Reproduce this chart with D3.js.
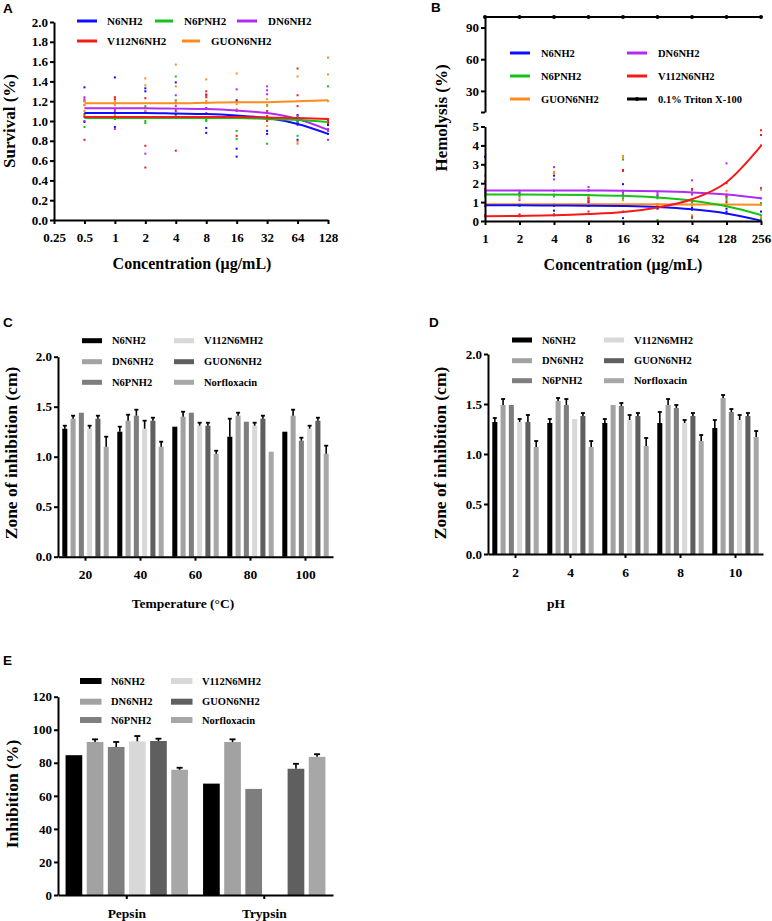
<!DOCTYPE html>
<html><head><meta charset="utf-8">
<script src="https://cdn.jsdelivr.net/npm/d3@7"></script>
<style>body{margin:0;background:#fff}</style>
</head><body><svg id="c" width="772" height="921" style="background:#fff"></svg>
<script>
// ================= Panel A: Survival =================
const concA = [0.5,1,2,4,8,16,32,64,128];
const ticksA = [0.25,0.5,1,2,4,8,16,32,64,128];
const tickLabelsA = ["0.25","0.5","1","2","4","8","16","32","64","128"];
const yTicksA = [0,0.2,0.4,0.6,0.8,1.0,1.2,1.4,1.6,1.8,2.0];
const namesA = ["N6NH2","N6PNH2","DN6NH2","V112N6NH2","GUON6NH2"];
const fitA_N6NH2 = [1.08,1.08,1.08,1.075,1.07,1.055,1.03,0.97,0.87];
const fitA_N6PNH2 = [1.03,1.03,1.03,1.03,1.03,1.03,1.02,1.01,0.99];
const fitA_DN6NH2 = [1.13,1.13,1.13,1.125,1.12,1.105,1.08,1.02,0.91];
const fitA_V112N6NH2 = [1.04,1.04,1.04,1.04,1.04,1.04,1.035,1.03,1.02];
const fitA_GUON6NH2 = [1.18,1.18,1.18,1.18,1.185,1.19,1.19,1.20,1.21];
const dotsA_N6NH2 = [[1.34,1.20,0.99],[1.44,0.94,1.02],[1.33,1.30,1.04],[1.39,1.07,1.18],[1.13,0.93,0.88],[1.21,0.72,0.64],[0.90,0.87,1.03],[1.06,0.81,0.98],[1.00,0.96,0.87]];
const dotsA_N6PNH2 = [[0.94,1.05,1.16],[1.02,1.08,1.04],[1.15,0.98,1.00],[1.45,1.21,1.05],[1.12,1.01,1.00],[1.11,0.90,0.82],[1.16,0.77,1.02],[0.85,0.99,1.00],[1.35,0.91,0.99]];
const dotsA_DN6NH2 = [[1.24,1.22,1.00],[0.92,1.10,1.12],[0.67,1.13,1.10],[1.26,1.12,1.15],[1.27,1.13,1.08],[1.32,1.10,1.05],[1.35,1.31,1.27],[1.05,0.96,1.00],[0.81,0.92,0.90]];
const dotsA_V112N6NH2 = [[0.81,1.04,1.07],[1.24,1.22,1.04],[1.23,0.75,0.53],[0.70,1.04,1.10],[1.30,1.26,1.24],[0.85,1.05,1.20],[1.05,1.00,1.10],[1.53,1.26,1.15],[1.02,1.00,0.98]];
const dotsA_GUON6NH2 = [[1.16,1.10,1.20],[1.06,1.16,1.20],[1.43,1.36,1.10],[1.57,1.35,1.20],[1.42,1.18,1.20],[1.48,1.17,1.12],[1.22,0.95,1.15],[1.45,0.79,0.77],[1.64,1.47,1.20]];

// ================= Panel B: Hemolysis =================
const concB = [1,2,4,8,16,32,64,128,256];
const tickLabelsB = ["1","2","4","8","16","32","64","128","256"];
const namesB = ["N6NH2","DN6NH2","N6PNH2","V112N6NH2","GUON6NH2","0.1% Triton X-100"];
const fitB_N6NH2 = [0.83,0.83,0.82,0.81,0.79,0.74,0.62,0.40,0.02];
const fitB_N6PNH2 = [1.40,1.40,1.39,1.37,1.33,1.24,1.07,0.78,0.32];
const fitB_DN6NH2 = [1.62,1.62,1.62,1.61,1.60,1.57,1.51,1.40,1.20];
const fitB_V112N6NH2 = [0.25,0.27,0.30,0.37,0.48,0.72,1.15,2.05,3.97];
const fitB_GUON6NH2 = [0.88,0.88,0.88,0.88,0.88,0.88,0.87,0.87,0.86];
const tritonB = [100,100,100,100,100,100,100,100,100];
const dotsB_N6NH2 = [[3.4,0.85,0.8],[1.45,1.4,0.8],[2.4,0.55,0.8],[0.8,1.0,0.85],[1.95,0.15,0.8],[0.65,0.7,0.75],[0.2,0.6,0.7],[0.65,0.5,0.4],[0.5,0.05,0.0]];
const dotsB_N6PNH2 = [[2.9,1.4,1.3],[0.8,1.4,1.3],[1.4,0.35,1.3],[1.65,1.3,1.2],[3.25,1.3,1.2],[0.05,1.2,1.3],[0.15,1.1,1.0],[1.2,1.1,0.8],[0.95,0.3,0.1]];
const dotsB_DN6NH2 = [[2.1,1.6,1.5],[1.1,1.6,1.5],[2.85,2.2,1.6],[1.8,1.05,1.6],[1.5,1.6,1.4],[1.4,1.35,1.5],[2.15,1.5,1.4],[3.05,1.4,1.3],[1.75,1.7,1.2]];
const dotsB_V112N6NH2 = [[1.7,0.25,0.3],[0.35,0.25,0.3],[0.8,0.3,0.35],[1.2,1.1,0.5],[2.7,2.65,0.5],[0.9,0.7,0.8],[1.7,1.65,0.2],[1.3,1.0,2.0],[4.8,4.55,4.0]];
const dotsB_GUON6NH2 = [[2.4,0.9,0.85],[1.2,0.9,0.85],[2.6,2.5,0.9],[1.3,0.9,0.85],[3.45,3.35,1.1],[0.9,0.85,0.8],[0.3,0.9,0.8],[1.6,0.9,0.85],[1.65,0.2,0.85]];

// ================= Bar panels: shared series =================
const barNames = ["N6NH2","DN6NH2","N6PNH2","V112N6MH2","GUON6NH2","Norfloxacin"];

// Panel C: temperature
const tempCats = ["20","40","60","80","100"];
const tempN6NH2 = [1.28,1.25,1.30,1.20,1.25];
const tempDN6NH2 = [1.38,1.36,1.40,1.41,1.41];
const tempN6PNH2 = [1.44,1.41,1.44,1.35,1.16];
const tempV112N6MH2 = [1.28,1.28,1.31,1.31,1.28];
const tempGUON6NH2 = [1.38,1.36,1.31,1.38,1.36];
const tempNorfloxacin = [1.10,1.10,1.03,1.05,1.03];
const tempErrN6NH2 = [0.03,0.05,0,0.18,0];
const tempErrDN6NH2 = [0.03,0.06,0.05,0.03,0.06];
const tempErrN6PNH2 = [0,0.06,0,0,0.03];
const tempErrV112N6MH2 = [0.03,0.08,0.03,0.03,0.03];
const tempErrGUON6NH2 = [0.03,0.03,0.03,0.03,0.03];
const tempErrNorfloxacin = [0.10,0.05,0.03,0,0.08];

// Panel D: pH
const phCats = ["2","4","6","8","10"];
const phN6NH2 = [1.32,1.31,1.31,1.31,1.26];
const phDN6NH2 = [1.49,1.53,1.49,1.49,1.56];
const phN6PNH2 = [1.49,1.49,1.48,1.46,1.42];
const phV112N6MH2 = [1.32,1.35,1.34,1.31,1.34];
const phGUON6NH2 = [1.32,1.38,1.38,1.38,1.38];
const phNorfloxacin = [1.07,1.07,1.08,1.13,1.17];
const phErrN6NH2 = [0.04,0.04,0.04,0.11,0.08];
const phErrDN6NH2 = [0.06,0.03,0,0.06,0.03];
const phErrN6PNH2 = [0,0.06,0.03,0.03,0.03];
const phErrV112N6MH2 = [0.03,0,0.05,0.03,0.05];
const phErrGUON6NH2 = [0.07,0.03,0.03,0.03,0.03];
const phErrNorfloxacin = [0.06,0.06,0.08,0.06,0.06];

// Panel E: enzymes
const enzCats = ["Pepsin","Trypsin"];
const enzN6NH2 = [84.6,67.4];
const enzDN6NH2 = [92.6,92.6];
const enzN6PNH2 = [89.6,64.2];
const enzV112N6MH2 = [93.0,null];
const enzGUON6NH2 = [93.2,76.4];
const enzNorfloxacin = [75.8,83.6];
const enzErrN6NH2 = [0,0];
const enzErrDN6NH2 = [1.6,1.6];
const enzErrN6PNH2 = [3.0,0];
const enzErrV112N6MH2 = [3.2,0];
const enzErrGUON6NH2 = [1.4,3.0];
const enzErrNorfloxacin = [1.2,1.6];

// ================= Styling =================
const SERIF = "'Liberation Serif','Times New Roman',serif";
const SANS = "'Liberation Sans',Arial,sans-serif";
const lineColors = {N6NH2:"#0d0dff",N6PNH2:"#17c217",DN6NH2:"#b02cf2",V112N6NH2:"#f51a1a",GUON6NH2:"#ff8a1f"};
const barColors = ["#000000","#a2a2a2","#7e7e7e","#d8d8d8","#5f5f5f","#a7a7a7"];

const svg = d3.select("#c");

function text(x,y,s,size,opts={}){
  const t = svg.append("text").attr("x",x).attr("y",y).text(s)
    .attr("font-family",opts.family||SERIF).attr("font-weight","bold")
    .attr("font-size",size).attr("fill","#000")
    .attr("text-anchor",opts.anchor||"start");
  if(opts.rotate){ t.attr("transform",`rotate(-90,${x},${y})`).attr("text-anchor","middle"); }
  if(opts.baseline) t.attr("dominant-baseline",opts.baseline);
  return t;
}
function styleAxis(g,size){
  g.attr("font-family",SERIF).attr("font-weight","bold").attr("font-size",size);
  g.select(".domain").attr("stroke","#000").attr("stroke-width",2);
  g.selectAll(".tick line").attr("stroke","#000").attr("stroke-width",2);
  g.selectAll(".tick text").attr("fill","#000");
}

// ================= Draw Panel A =================
(function(){
  const x = d3.scaleLog().base(2).domain([0.25,128]).range([54,328]);
  const y = d3.scaleLinear().domain([0,2]).range([220,22]);
  const series = [
    {n:"N6NH2",fit:fitA_N6NH2,dots:dotsA_N6NH2},
    {n:"N6PNH2",fit:fitA_N6PNH2,dots:dotsA_N6PNH2},
    {n:"DN6NH2",fit:fitA_DN6NH2,dots:dotsA_DN6NH2},
    {n:"V112N6NH2",fit:fitA_V112N6NH2,dots:dotsA_V112N6NH2},
    {n:"GUON6NH2",fit:fitA_GUON6NH2,dots:dotsA_GUON6NH2}];
  series.forEach(s=>{
    s.dots.forEach((reps,i)=>reps.forEach(v=>{
      svg.append("rect").attr("x",x(concA[i])-1).attr("y",y(v)-1).attr("width",2).attr("height",2).attr("fill",lineColors[s.n]);
    }));
  });
  const line = d3.line().x((d,i)=>x(concA[i])).y(d=>y(d)).curve(d3.curveMonotoneX);
  ["GUON6NH2","DN6NH2","N6NH2","N6PNH2","V112N6NH2"].forEach(n=>{
    const s = series.find(q=>q.n===n);
    svg.append("path").attr("d",line(s.fit)).attr("fill","none").attr("stroke",lineColors[n]).attr("stroke-width",2);
  });
  const gx = svg.append("g").attr("transform","translate(0,220)")
    .call(d3.axisBottom(x).tickValues(ticksA).tickFormat((d,i)=>tickLabelsA[i]).tickSize(4).tickSizeOuter(0).tickPadding(9));
  styleAxis(gx,13);
  const gy = svg.append("g").attr("transform","translate(54,0)")
    .call(d3.axisLeft(y).tickValues(yTicksA).tickFormat(d3.format(".1f")).tickSize(4).tickSizeOuter(0).tickPadding(2));
  styleAxis(gy,13);
  // legend
  const leg = [{n:"N6NH2",x1:77,x2:97,tx:107,y:21},{n:"N6PNH2",x1:155,x2:173,tx:184,y:21},{n:"DN6NH2",x1:237,x2:257,tx:268,y:21},
               {n:"V112N6NH2",x1:77,x2:97,tx:107,y:41},{n:"GUON6NH2",x1:182,x2:200,tx:211,y:41}];
  leg.forEach(l=>{
    svg.append("line").attr("x1",l.x1).attr("x2",l.x2).attr("y1",l.y).attr("y2",l.y).attr("stroke",lineColors[l.n]).attr("stroke-width",3);
    text(l.tx,l.y+4,l.n,11);
  });
  text(192,269,"Concentration (μg/mL)",16,{anchor:"middle"});
  text(9,121,"Survival (%)",17,{rotate:true,baseline:"central"});
  text(3,13,"A",13.5,{family:SANS});
})();

// ================= Draw Panel B =================
(function(){
  const x = d3.scaleLog().base(2).domain([1,256]).range([485,761]);
  const yLo = d3.scaleLinear().domain([0,5]).range([221,126.5]);
  const yUp = d3.scaleLinear().domain([10,100]).range([112,17]);
  const series = [
    {n:"N6NH2",fit:fitB_N6NH2,dots:dotsB_N6NH2},
    {n:"N6PNH2",fit:fitB_N6PNH2,dots:dotsB_N6PNH2},
    {n:"DN6NH2",fit:fitB_DN6NH2,dots:dotsB_DN6NH2},
    {n:"V112N6NH2",fit:fitB_V112N6NH2,dots:dotsB_V112N6NH2},
    {n:"GUON6NH2",fit:fitB_GUON6NH2,dots:dotsB_GUON6NH2}];
  series.forEach(s=>{
    s.dots.forEach((reps,i)=>reps.forEach(v=>{
      svg.append("rect").attr("x",x(concB[i])-1).attr("y",yLo(v)-1).attr("width",2).attr("height",2).attr("fill",lineColors[s.n]);
    }));
  });
  const line = d3.line().x((d,i)=>x(concB[i])).y(d=>yLo(d)).curve(d3.curveMonotoneX);
  ["GUON6NH2","N6NH2","N6PNH2","DN6NH2","V112N6NH2"].forEach(n=>{
    const s = series.find(q=>q.n===n);
    svg.append("path").attr("d",line(s.fit)).attr("fill","none").attr("stroke",lineColors[n]).attr("stroke-width",2);
  });
  // Triton
  const tline = d3.line().x((d,i)=>x(concB[i])).y(d=>yUp(d));
  svg.append("path").attr("d",tline(tritonB)).attr("fill","none").attr("stroke","#000").attr("stroke-width",2);
  tritonB.forEach((v,i)=>svg.append("circle").attr("cx",x(concB[i])).attr("cy",yUp(v)).attr("r",2).attr("fill","#000"));

  const gx = svg.append("g").attr("transform","translate(0,221)")
    .call(d3.axisBottom(x).tickValues(concB).tickFormat((d,i)=>tickLabelsB[i]).tickSize(4).tickSizeOuter(0).tickPadding(9));
  styleAxis(gx,13);
  const gy1 = svg.append("g").attr("transform","translate(485,0)")
    .call(d3.axisLeft(yLo).tickValues([0,1,2,3,4,5]).tickFormat(d3.format("d")).tickSize(4).tickSizeOuter(0).tickPadding(2));
  styleAxis(gy1,13);
  const gy2 = svg.append("g").attr("transform","translate(485,0)")
    .call(d3.axisLeft(yUp).tickValues([10,30,60,90]).tickFormat(d=>d===10?"":d).tickSize(4).tickSizeOuter(0).tickPadding(2));
  styleAxis(gy2,13);
  // legend
  const cols = [{x1:510,x2:530,tx:541},{x1:627,x2:647,tx:658}];
  const rows = [53,76,99];
  const legItems = [["N6NH2",0,0],["N6PNH2",0,1],["GUON6NH2",0,2],["DN6NH2",1,0],["V112N6NH2",1,1],["0.1% Triton X-100",1,2]];
  legItems.forEach(([n,c,r])=>{
    const col = cols[c], yy = rows[r];
    const color = lineColors[n] || "#000";
    svg.append("line").attr("x1",col.x1).attr("x2",col.x2).attr("y1",yy).attr("y2",yy).attr("stroke",color).attr("stroke-width",3);
    if(!lineColors[n]) svg.append("circle").attr("cx",(col.x1+col.x2)/2).attr("cy",yy).attr("r",2).attr("fill","#000");
    text(col.tx,yy+4,n,10.5);
  });
  text(623,270,"Concentration (μg/mL)",16,{anchor:"middle"});
  text(441,118,"Hemolysis (%)",17,{rotate:true,baseline:"central"});
  text(431,12,"B",13.5,{family:SANS});
})();

// ================= Bar panel helper =================
function barPanel(cfg){
  const gx = d3.scaleBand().domain(cfg.cats).range(cfg.xr).paddingInner(cfg.pg).paddingOuter(cfg.pg/2);
  const ix = d3.scaleBand().domain(barNames).range([0,gx.bandwidth()]).paddingInner(cfg.pb);
  const y = d3.scaleLinear().domain(cfg.yd).range(cfg.yr);
  cfg.vals.forEach((arr,si)=>{
    arr.forEach((v,ci)=>{
      if(v==null) return;
      const bx = gx(cfg.cats[ci]) + ix(barNames[si]);
      svg.append("rect").attr("x",bx).attr("y",y(v)).attr("width",ix.bandwidth()).attr("height",y(cfg.yd[0])-y(v)).attr("fill",barColors[si]);
      const e = cfg.errs[si][ci];
      if(e>0){
        const cxm = bx + ix.bandwidth()/2;
        svg.append("line").attr("x1",cxm).attr("x2",cxm).attr("y1",y(v)).attr("y2",y(v+e)).attr("stroke","#000").attr("stroke-width",1.6);
        svg.append("line").attr("x1",cxm-cfg.cap/2).attr("x2",cxm+cfg.cap/2).attr("y1",y(v+e)).attr("y2",y(v+e)).attr("stroke","#000").attr("stroke-width",1.8);
      }
    });
  });
  const ax = svg.append("g").attr("transform",`translate(0,${cfg.yr[0]})`)
    .call(d3.axisBottom(gx).tickSize(4).tickSizeOuter(0).tickPadding(cfg.xpad));
  styleAxis(ax,cfg.xfs);
  const ay = svg.append("g").attr("transform",`translate(${cfg.xr[0]},0)`)
    .call(d3.axisLeft(y).tickValues(cfg.yticks).tickFormat(cfg.yfmt).tickSize(4).tickSizeOuter(0).tickPadding(2));
  styleAxis(ay,13);
  // legend
  barNames.forEach((n,i)=>{
    const c = Math.floor(i/3), r = i%3;
    const L = cfg.leg;
    const yy = L.rows[r];
    svg.append("rect").attr("x",L.sx[c]).attr("y",yy-L.sh/2).attr("width",L.sw).attr("height",L.sh).attr("fill",barColors[i]);
    text(L.tx[c],yy+3.7,n,10.5);
  });
}

// Panel C
barPanel({cats:tempCats,xr:[58,333],yr:[556.7,356.7],yd:[0,2],pg:0.156,pb:0.39,cap:4,xpad:9,xfs:13.5,
  yticks:[0,0.5,1,1.5,2],yfmt:d3.format(".1f"),
  vals:[tempN6NH2,tempDN6NH2,tempN6PNH2,tempV112N6MH2,tempGUON6NH2,tempNorfloxacin],
  errs:[tempErrN6NH2,tempErrDN6NH2,tempErrN6PNH2,tempErrV112N6MH2,tempErrGUON6NH2,tempErrNorfloxacin],
  leg:{rows:[340.7,361.7,382.3],sx:[82,174],sw:20,sh:5,tx:[112,204]}});
text(183,608,"Temperature (°C)",13.5,{anchor:"middle"});
text(11,453,"Zone of inhibition (cm)",17.5,{rotate:true,baseline:"central"});
text(3,327,"C",13.5,{family:SANS});

// Panel D
barPanel({cats:phCats,xr:[488,763],yr:[554,354],yd:[0,2],pg:0.156,pb:0.39,cap:4,xpad:9,xfs:13.5,
  yticks:[0,0.5,1,1.5,2],yfmt:d3.format(".1f"),
  vals:[phN6NH2,phDN6NH2,phN6PNH2,phV112N6MH2,phGUON6NH2,phNorfloxacin],
  errs:[phErrN6NH2,phErrDN6NH2,phErrN6PNH2,phErrV112N6MH2,phErrGUON6NH2,phErrNorfloxacin],
  leg:{rows:[340,360.7,380.7],sx:[512,604],sw:20,sh:5,tx:[542,634]}});
text(556,608,"pH",13.5,{anchor:"middle"});
text(440,453,"Zone of inhibition (cm)",17.5,{rotate:true,baseline:"central"});
text(429,327,"D",13.5,{family:SANS});

// Panel E
barPanel({cats:enzCats,xr:[58,333],yr:[895,696.7],yd:[0,120],pg:0.11,pb:0.21,cap:6,xpad:9,xfs:13.5,
  yticks:[0,20,40,60,80,100,120],yfmt:d3.format("d"),
  vals:[enzN6NH2,enzDN6NH2,enzN6PNH2,enzV112N6MH2,enzGUON6NH2,enzNorfloxacin],
  errs:[enzErrN6NH2,enzErrDN6NH2,enzErrN6PNH2,enzErrV112N6MH2,enzErrGUON6NH2,enzErrNorfloxacin],
  leg:{rows:[681,701.7,720],sx:[80,171],sw:21.5,sh:6,tx:[111,202]}});
text(11.5,794,"Inhibition (%)",17.5,{rotate:true,baseline:"central"});
text(3,665,"E",13.5,{family:SANS});
</script></body></html>
